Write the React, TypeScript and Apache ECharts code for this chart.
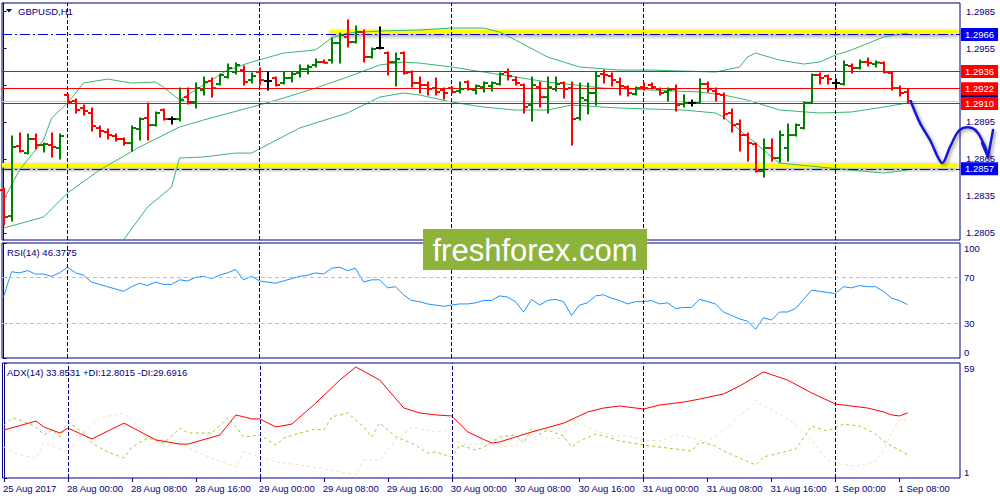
import React, { useEffect, useRef } from "react";
import * as echarts from "echarts";

// ---------- DATA ----------
const timeLabels = [
  "25 Aug 2017", "28 Aug 00:00", "28 Aug 08:00", "28 Aug 16:00", "29 Aug 00:00",
  "29 Aug 08:00", "29 Aug 16:00", "30 Aug 00:00", "30 Aug 08:00", "30 Aug 16:00",
  "31 Aug 00:00", "31 Aug 08:00", "31 Aug 16:00", "1 Sep 00:00", "1 Sep 08:00",
];
const labelBars = [0, 8, 16, 24, 32, 40, 48, 56, 64, 72, 80, 88, 96, 104, 112];
const daySeparators = [8, 32, 56, 80, 104];

const opens = [
  1.28398, 1.28187, 1.28755, 1.28698, 1.28812, 1.28763, 1.28763, 1.28739, 1.29169, 1.2912,
  1.29063, 1.29023, 1.28901, 1.28869, 1.28836, 1.28812, 1.28779, 1.28893, 1.28982, 1.28925,
  1.29047, 1.28974, 1.28974, 1.29152, 1.29112, 1.29209, 1.29282, 1.29258, 1.29315, 1.29355,
  1.29371, 1.2929, 1.29355, 1.29282, 1.29307, 1.29266, 1.29307, 1.29347, 1.29379, 1.29412,
  1.29436, 1.29452, 1.2959, 1.29639, 1.29598, 1.2968, 1.29477, 1.2955, 1.29509, 1.29436,
  1.29509, 1.29355, 1.29266, 1.2925, 1.29225, 1.29209, 1.29225, 1.29201, 1.29274, 1.29209,
  1.29233, 1.29242, 1.29258, 1.29355, 1.2929, 1.2925, 1.29087, 1.29233, 1.29152, 1.29217,
  1.29266, 1.29225, 1.28982, 1.29128, 1.29185, 1.29339, 1.29323, 1.29274, 1.29233, 1.29177,
  1.29233, 1.2925, 1.29217, 1.29193, 1.29217, 1.29096, 1.29104, 1.29104, 1.29258, 1.29201,
  1.29169, 1.29023, 1.28933, 1.28844, 1.28771, 1.28552, 1.28739, 1.28658, 1.28739, 1.28844,
  1.28901, 1.29104, 1.29331, 1.29323, 1.29266, 1.29258, 1.29404, 1.29388, 1.29436, 1.2942,
  1.29428, 1.29347, 1.29225, 1.29193,
];
const highs = [
  1.28414, 1.28836, 1.2886, 1.28852, 1.28852, 1.28779, 1.2886, 1.28852, 1.29177, 1.29136,
  1.29087, 1.29063, 1.28917, 1.28893, 1.28852, 1.2882, 1.28917, 1.28982, 1.29104, 1.29031,
  1.29055, 1.2899, 1.29225, 1.29225, 1.29266, 1.29315, 1.29307, 1.29339, 1.2942, 1.29428,
  1.29404, 1.29347, 1.29388, 1.29355, 1.29315, 1.29355, 1.29355, 1.29412, 1.29412, 1.29461,
  1.29452, 1.29631, 1.29671, 1.29777, 1.29728, 1.29696, 1.2955, 1.2972, 1.29517, 1.29509,
  1.29517, 1.29363, 1.29315, 1.29274, 1.29307, 1.29225, 1.29233, 1.29274, 1.29282, 1.2925,
  1.29274, 1.29274, 1.29347, 1.29379, 1.29315, 1.29258, 1.29315, 1.29274, 1.29315, 1.29315,
  1.29274, 1.29274, 1.29266, 1.29266, 1.29355, 1.29371, 1.29347, 1.29307, 1.29242, 1.29233,
  1.29266, 1.29266, 1.29225, 1.29225, 1.2925, 1.29169, 1.29128, 1.29298, 1.29274, 1.29225,
  1.29185, 1.29055, 1.28966, 1.2886, 1.28779, 1.28812, 1.28812, 1.28877, 1.28933, 1.28933,
  1.29112, 1.29339, 1.29347, 1.29331, 1.29298, 1.29444, 1.2942, 1.29452, 1.29469, 1.29444,
  1.29436, 1.29355, 1.29242, 1.29217,
];
const lows = [
  1.28114, 1.28147, 1.28706, 1.2869, 1.28731, 1.28706, 1.28666, 1.2865, 1.29104, 1.29023,
  1.29006, 1.28877, 1.28828, 1.28812, 1.28796, 1.28763, 1.28714, 1.28804, 1.28804, 1.28917,
  1.28966, 1.28933, 1.28958, 1.29096, 1.29063, 1.29169, 1.29152, 1.2925, 1.29307, 1.29339,
  1.2925, 1.29266, 1.2925, 1.29209, 1.29242, 1.29258, 1.29274, 1.29315, 1.29339, 1.29396,
  1.29428, 1.29428, 1.29428, 1.29558, 1.2959, 1.29436, 1.29469, 1.29542, 1.29331, 1.29242,
  1.29339, 1.29233, 1.29185, 1.29169, 1.29169, 1.29136, 1.29185, 1.29185, 1.29209, 1.29177,
  1.29193, 1.29201, 1.2925, 1.2929, 1.2925, 1.29023, 1.28958, 1.29071, 1.29023, 1.29201,
  1.29144, 1.28763, 1.28966, 1.29014, 1.29087, 1.29266, 1.29242, 1.29169, 1.2916, 1.29169,
  1.29209, 1.29217, 1.29169, 1.2912, 1.29039, 1.29071, 1.29079, 1.291, 1.29193, 1.2912,
  1.28974, 1.28869, 1.28714, 1.28633, 1.28544, 1.28504, 1.28633, 1.28625, 1.28633, 1.28836,
  1.28893, 1.291, 1.29258, 1.29258, 1.29217, 1.2925, 1.29347, 1.29379, 1.29404, 1.29396,
  1.29347, 1.29209, 1.2916, 1.29104,
];
const closes = [
  1.28179, 1.28747, 1.28714, 1.28812, 1.28763, 1.28771, 1.28747, 1.28836, 1.29112, 1.29047,
  1.29039, 1.28917, 1.28877, 1.28844, 1.28812, 1.28779, 1.28901, 1.28974, 1.28925, 1.29023,
  1.28974, 1.28974, 1.29128, 1.29112, 1.29225, 1.29274, 1.29225, 1.29331, 1.29388, 1.29412,
  1.29274, 1.29323, 1.2929, 1.29282, 1.2925, 1.29307, 1.29339, 1.29379, 1.29396, 1.29436,
  1.2943, 1.2959, 1.29655, 1.29598, 1.2968, 1.29477, 1.29542, 1.2955, 1.29436, 1.29461,
  1.29347, 1.29266, 1.2925, 1.29217, 1.29193, 1.29185, 1.29193, 1.29217, 1.29217, 1.29242,
  1.29266, 1.29266, 1.29339, 1.29323, 1.29266, 1.29071, 1.2925, 1.29152, 1.29233, 1.29258,
  1.29217, 1.28974, 1.29144, 1.29185, 1.29323, 1.29331, 1.2929, 1.29242, 1.29185, 1.29225,
  1.29225, 1.29233, 1.29185, 1.29209, 1.29087, 1.29104, 1.29104, 1.29258, 1.29217, 1.29177,
  1.29014, 1.28925, 1.28844, 1.28779, 1.28552, 1.28739, 1.28658, 1.28844, 1.28844, 1.28925,
  1.29104, 1.29331, 1.29307, 1.29298, 1.29266, 1.29412, 1.29388, 1.29436, 1.29428, 1.29432,
  1.29355, 1.29225, 1.29185, 1.2912,
];

// Bollinger bands: [bar index, price]
const bbUpper = [
  [0, 1.28317], [2, 1.2856], [5, 1.28804], [6, 1.28982], [8, 1.29104], [10, 1.29266], [13, 1.29298],
  [16, 1.29266], [19, 1.29274], [20, 1.29233], [22, 1.29128], [25, 1.2925], [28, 1.29371], [31, 1.29436],
  [35, 1.29509], [39, 1.29534], [41, 1.29631], [43, 1.29671], [47, 1.29688], [52, 1.29696], [56, 1.29712],
  [60, 1.29712], [62, 1.2968], [64, 1.29615], [68, 1.29477], [72, 1.29396], [77, 1.29371], [81, 1.29371],
  [85, 1.29363], [89, 1.29355], [92, 1.29396], [93, 1.29477], [94, 1.29509], [97, 1.29452], [100, 1.2942],
  [102, 1.29436], [104, 1.29493], [106, 1.29534], [110, 1.29639], [113, 1.29671],
];
const bbMiddle = [
  [0, 1.2809], [5, 1.28179], [8, 1.28374], [12, 1.2856], [17, 1.28747], [22, 1.28909], [25, 1.28966],
  [31, 1.29071], [35, 1.29144], [39, 1.29225], [43, 1.29315], [47, 1.29412], [50, 1.29436], [52, 1.29428],
  [56, 1.29396], [60, 1.29355], [64, 1.29315], [68, 1.29274], [75, 1.29225], [81, 1.29209], [87, 1.29193],
  [90, 1.29169], [93, 1.29128], [97, 1.29047], [102, 1.29023], [106, 1.29031], [110, 1.29071], [113, 1.29104],
];
const bbLower = [
  [15, 1.27993], [18, 1.2826], [21, 1.28422], [22, 1.28658], [25, 1.28666], [29, 1.28698], [31, 1.28698],
  [37, 1.28901], [39, 1.28942], [43, 1.29023], [47, 1.29152], [50, 1.29185], [52, 1.29169], [56, 1.29112],
  [60, 1.29071], [64, 1.29047], [68, 1.29047], [71, 1.29087], [77, 1.29063], [85, 1.29047], [89, 1.29023],
  [90, 1.2899], [92, 1.28885], [94, 1.28779], [96, 1.28666], [97, 1.28617], [102, 1.28585], [106, 1.2856],
  [110, 1.28536], [113, 1.2856],
];

const priceTicks = [1.2805, 1.2835, 1.2865, 1.2895, 1.2925, 1.2955, 1.2985];
const levelsRed = [1.2936, 1.2922, 1.291];
const levelsBlue = [1.2966, 1.2857];
const bidPrice = 1.2912;

// RSI(14), one value per bar
const rsi = [
  53, 75, 74, 76, 73, 73, 71, 74, 79, 74,
  72, 66, 64, 62, 60, 58, 62, 65, 63, 66,
  64, 64, 68, 67, 70, 71, 69, 72, 74, 77,
  68, 71, 67, 66, 65, 67, 69, 71, 72, 74,
  73, 78, 79, 76, 78, 66, 68, 68, 61, 62,
  55, 50, 49, 47, 46, 45, 46, 47, 47, 48,
  50, 50, 54, 53, 49, 40, 51, 46, 50, 51,
  49, 37, 46, 48, 54, 55, 52, 50, 47, 49,
  49, 50, 47, 48, 43, 44, 44, 51, 49, 47,
  40, 37, 34, 32, 25, 35, 33, 40, 40, 43,
  51, 59, 58, 57, 56, 62, 61, 63, 62, 62,
  58, 52, 50, 46.3775,
];
const rsiLevels = [70, 30];

// ADX(14), +DI, -DI: [bar index, value]
const adx = [
  [0, 25.2], [4, 29.7], [5, 26.7], [7, 23.7], [8, 26.2], [11, 20.7], [15, 28.7], [19, 20.2], [22, 18.1],
  [23, 18.1], [27, 22.7], [29, 32.8], [31, 30.8], [32, 30.8], [34, 26.7], [36, 28.2], [39, 38.8],
  [42, 50.4], [44, 57.0], [47, 50.4], [50, 36.3], [52, 33.8], [54, 32.8], [56, 32.3], [58, 24.2],
  [61, 18.6], [62, 19.2], [66, 24.2], [70, 28.7], [73, 34.3], [75, 36.3], [77, 37.3], [80, 35.8],
  [82, 37.8], [85, 39.3], [87, 40.8], [90, 43.4], [92, 47.4], [95, 54.5], [98, 50.4], [101, 43.9],
  [104, 38.3], [106, 37.3], [108, 36.3], [110, 34.3], [111, 32.8], [112, 32.3], [113, 33.85],
];
const plusDI = [
  [0, 27.7], [1, 31.3], [2, 30.2], [4, 26.7], [5, 22.7], [6, 25.2], [7, 21.7], [8, 29.2], [10, 23.7],
  [11, 18.6], [13, 14.1], [15, 11.1], [16, 16.6], [18, 21.2], [20, 18.6], [22, 26.2], [23, 23.7],
  [26, 23.7], [28, 31.3], [29, 26.7], [30, 21.7], [32, 22.7], [34, 17.6], [35, 21.2], [37, 23.7],
  [39, 25.7], [40, 25.2], [41, 31.8], [43, 33.8], [45, 26.7], [46, 21.7], [47, 28.7], [49, 21.7],
  [51, 18.6], [53, 13.6], [54, 14.1], [56, 11.6], [57, 17.6], [59, 15.1], [60, 16.6], [62, 21.7],
  [64, 22.7], [65, 18.6], [66, 26.2], [67, 23.2], [68, 25.2], [70, 22.2], [71, 16.6], [72, 19.7],
  [74, 23.2], [75, 22.2], [77, 19.7], [80, 17.6], [83, 16.1], [86, 14.6], [87, 19.2], [89, 17.1],
  [90, 14.6], [92, 11.1], [94, 7.6], [95, 11.6], [97, 13.6], [99, 15.6], [100, 21.2], [101, 27.2],
  [103, 24.7], [105, 28.2], [107, 27.2], [109, 23.2], [110, 19.7], [111, 17.1], [112, 15.1], [113, 12.8015],
];
const minusDI = [
  [0, 16.6], [2, 12.6], [4, 11.1], [5, 18.6], [8, 14.1], [10, 24.2], [12, 31.3], [15, 33.8], [17, 26.2],
  [20, 16.6], [22, 18.6], [25, 12.6], [29, 6.5], [30, 14.1], [32, 11.6], [34, 9.1], [37, 7.6], [41, 5.0],
  [44, 2.5], [45, 10.1], [47, 10.1], [49, 20.2], [51, 26.7], [54, 24.2], [55, 25.2], [56, 20.2],
  [58, 17.6], [60, 18.6], [62, 16.6], [64, 17.1], [65, 24.7], [66, 21.2], [67, 22.7], [68, 20.7],
  [70, 21.2], [71, 31.3], [72, 28.2], [74, 24.7], [76, 22.2], [78, 22.2], [80, 20.2], [82, 19.7],
  [84, 22.7], [86, 21.2], [88, 19.2], [90, 25.2], [91, 28.7], [92, 32.8], [93, 35.3], [94, 40.3],
  [95, 37.3], [97, 33.3], [99, 28.2], [100, 24.2], [101, 20.2], [103, 10.1], [105, 7.6], [107, 7.1],
  [109, 9.6], [110, 15.1], [111, 23.7], [112, 30.8], [113, 29.6916],
];

// hand-drawn forecast arrow (bar index, price)
const arrowPath = [
  [113.4, 1.29118], [114.56, 1.28941], [115.81, 1.28804], [117.31, 1.28617], [118.31, 1.28747],
  [119.19, 1.2886], [119.94, 1.28901], [121.06, 1.28901], [121.81, 1.2886], [122.69, 1.28747],
  [123.06, 1.28666],
];
const arrowHead = [[122.31, 1.28779], [123.06, 1.28666], [123.69, 1.28885]];

// ---------- STYLE ----------
const NAVY = "#000080";
const FONT = "Liberation Sans";
const FS = 9.5;
const X_MIN = -0.19;
const X_MAX = 119.56;

const barRows = opens.map((o, i) => [i, o, highs[i], lows[i], closes[i]]);
const rsiRows = rsi.map((v, i) => [i, v]);

const sepStyle = { color: NAVY, type: [4, 2], width: 1 };
const sepMarkLine = {
  silent: true,
  symbol: ["none", "none"],
  label: { show: false },
  lineStyle: sepStyle,
  data: daySeparators.map((v) => ({ xAxis: v })),
};

const levelLabel = (bg: string) => ({
  show: true,
  position: "end" as const,
  distance: 1,
  formatter: (p: any) => Number(p.value).toFixed(4),
  backgroundColor: bg,
  color: "#ffffff",
  padding: [2, 4, 1, 4],
  fontFamily: FONT,
  fontSize: FS,
});

const txt = (id: string, x: number, y: number, text: string) => ({
  id,
  type: "text",
  x,
  y,
  z: 50,
  silent: true,
  style: {
    text,
    fill: NAVY,
    font: `${FS}px "${FONT}"`,
    verticalAlign: "middle",
    align: "left",
  },
});

function buildOption() {
  const grids = [
    { left: 2, width: 958, top: 3, height: 237 },
    { left: 2, width: 958, top: 243, height: 115 },
    { left: 2, width: 958, top: 363, height: 115 },
  ].map((g) => ({ ...g, show: true, borderColor: NAVY, borderWidth: 1, backgroundColor: "#ffffff" }));

  const xAxes = [0, 1, 2].map((gi) => ({
    type: "value",
    gridIndex: gi,
    min: X_MIN,
    max: X_MAX,
    show: gi === 2,
    splitLine: { show: false },
    axisLine: { show: false },
    axisTick: {
      show: gi === 2,
      length: 4,
      lineStyle: { color: NAVY },
      customValues: labelBars,
    },
    axisLabel: {
      show: gi === 2,
      customValues: labelBars,
      formatter: (v: number) => timeLabels[labelBars.indexOf(Math.round(v))] ?? "",
      color: NAVY,
      fontFamily: FONT,
      fontSize: FS,
      align: "left",
      margin: 5,
      padding: [0, 0, 0, -1],
    },
  }));

  const yCommon = {
    type: "value",
    position: "right",
    splitLine: { show: false },
    axisLine: { show: true, lineStyle: { color: NAVY } },
  };
  const yAxes = [
    {
      ...yCommon,
      gridIndex: 0,
      min: 1.27993,
      max: 1.29915,
      axisTick: { show: true, length: 3, lineStyle: { color: NAVY }, customValues: priceTicks },
      axisLabel: {
        customValues: priceTicks,
        formatter: (v: number) => v.toFixed(4),
        color: NAVY,
        fontFamily: FONT,
        fontSize: FS,
        margin: 6,
      },
    },
    {
      ...yCommon,
      gridIndex: 1,
      min: 0,
      max: 100,
      axisTick: { show: true, length: 3, lineStyle: { color: NAVY }, customValues: [0, 30, 70, 100] },
      axisLabel: {
        customValues: [4.5, 30, 70, 95],
        formatter: (v: number) => (v > 90 ? "100" : v < 10 ? "0" : String(v)),
        color: NAVY,
        fontFamily: FONT,
        fontSize: FS,
        margin: 4,
      },
    },
    {
      ...yCommon,
      gridIndex: 2,
      min: 1,
      max: 59,
      axisTick: { show: true, length: 3, lineStyle: { color: NAVY }, customValues: [1, 59] },
      axisLabel: {
        customValues: [3.7, 56],
        formatter: (v: number) => (v > 50 ? "59" : "1"),
        color: NAVY,
        fontFamily: FONT,
        fontSize: FS,
        margin: 4,
      },
    },
  ];

  const bbLine = (name: string, data: number[][], z: number, extra: any = {}) => ({
    name,
    type: "line",
    xAxisIndex: 0,
    yAxisIndex: 0,
    data,
    showSymbol: false,
    symbol: "none",
    z,
    lineStyle: { color: "#3CB371", width: 1 },
    silent: true,
    ...extra,
  });

  const series: any[] = [
    bbLine("BB upper", bbUpper, 2, {
      markArea: {
        silent: true,
        itemStyle: {
          color: "#FFFF00",
          shadowBlur: 5,
          shadowColor: "rgba(0,0,0,0.45)",
          shadowOffsetY: 2,
        },
        data: [
          [{ xAxis: 40.8, yAxis: 1.29663 }, { xAxis: 119.3, yAxis: 1.29697 }],
          [{ xAxis: X_MIN, yAxis: 1.28581 }, { xAxis: 119.3, yAxis: 1.28617 }],
        ],
      },
      markLine: {
        silent: true,
        precision: 5,
        symbol: ["none", "none"],
        label: { show: false },
        data: [{ yAxis: bidPrice, lineStyle: { color: "#C8C8C8", type: "solid", width: 1 } }],
      },
    }),
    bbLine("BB middle", bbMiddle, 2, { markLine: sepMarkLine }),
    bbLine("BB lower", bbLower, 3, {
      markLine: {
        silent: true,
        precision: 5,
        symbol: ["none", "none"],
        data: [
          ...levelsRed.map((v) => ({
            yAxis: v,
            lineStyle: { color: "#FF0000", type: "solid", width: 1 },
            label: levelLabel("#FF0000"),
          })),
          ...levelsBlue.map((v) => ({
            yAxis: v,
            lineStyle: { color: "#0000E0", type: [10, 3, 2, 3], width: 1 },
            label: levelLabel("#0000F0"),
          })),
        ],
      },
    }),
    {
      name: "GBPUSD",
      type: "custom",
      xAxisIndex: 0,
      yAxisIndex: 0,
      z: 5,
      silent: true,
      data: barRows,
      encode: { x: 0, y: [1, 2, 3, 4] },
      renderItem: (_params: any, api: any) => {
        const i = api.value(0);
        const o = api.value(1);
        const h = api.value(2);
        const l = api.value(3);
        const c = api.value(4);
        const pH = api.coord([i, h]);
        const pL = api.coord([i, l]);
        const pO = api.coord([i, o]);
        const pC = api.coord([i, c]);
        const color = c > o ? "#008000" : c < o ? "#FF0000" : "#000000";
        const x = Math.round(pH[0]);
        const st = { stroke: color, lineWidth: 2 };
        return {
          type: "group",
          children: [
            { type: "line", shape: { x1: x, y1: pH[1] - 0.5, x2: x, y2: pL[1] + 0.5 }, style: st },
            { type: "line", shape: { x1: x - 4, y1: pO[1], x2: x, y2: pO[1] }, style: st },
            { type: "line", shape: { x1: x, y1: pC[1], x2: x + 4, y2: pC[1] }, style: st },
          ],
        };
      },
    },
    {
      name: "RSI",
      type: "line",
      xAxisIndex: 1,
      yAxisIndex: 1,
      data: rsiRows,
      showSymbol: false,
      symbol: "none",
      silent: true,
      lineStyle: { color: "#1E90FF", width: 1 },
      markLine: {
        silent: true,
        symbol: ["none", "none"],
        label: { show: false },
        data: [
          ...rsiLevels.map((v) => ({ yAxis: v, lineStyle: { color: "#C0C0C0", type: [4, 3], width: 1 } })),
          ...daySeparators.map((v) => ({ xAxis: v, lineStyle: sepStyle })),
        ],
      },
    },
    {
      name: "ADX",
      type: "line",
      xAxisIndex: 2,
      yAxisIndex: 2,
      data: adx,
      showSymbol: false,
      symbol: "none",
      silent: true,
      z: 4,
      lineStyle: { color: "#FF0000", width: 1 },
      markLine: sepMarkLine,
    },
    {
      name: "+DI",
      type: "line",
      xAxisIndex: 2,
      yAxisIndex: 2,
      data: plusDI,
      showSymbol: false,
      symbol: "none",
      silent: true,
      lineStyle: { color: "#9ACD32", width: 1, type: [3, 3] },
    },
    {
      name: "-DI",
      type: "line",
      xAxisIndex: 2,
      yAxisIndex: 2,
      data: minusDI,
      showSymbol: false,
      symbol: "none",
      silent: true,
      lineStyle: { color: "#F5DEB3", width: 1, type: [3, 3] },
    },
  ];

  const graphic = [
    {
      id: "tri",
      type: "polygon",
      z: 50,
      silent: true,
      shape: { points: [[6, 9], [12, 9], [9, 12.5]] },
      style: { fill: NAVY },
    },
    txt("t1", 18, 11, "GBPUSD,H1"),
    txt("t2", 7, 252, "RSI(14) 46.3775"),
    txt("t3", 7, 372, "ADX(14) 33.8531 +DI:12.8015 -DI:29.6916"),
    {
      id: "wmRect",
      type: "rect",
      z: 60,
      silent: true,
      shape: { x: 423, y: 229, width: 224, height: 41 },
      style: { fill: "#8DB33A" },
    },
    {
      id: "wmText",
      type: "text",
      z: 61,
      silent: true,
      x: 535,
      y: 250,
      style: {
        text: "freshforex.com",
        fill: "#ffffff",
        font: `31px "Liberation Sans"`,
        align: "center",
        verticalAlign: "middle",
      },
    },
  ];

  return {
    animation: false,
    backgroundColor: "#ffffff",
    grid: grids,
    xAxis: xAxes,
    yAxis: yAxes,
    series,
    graphic,
  };
}

export default function App() {
  const ref = useRef<HTMLDivElement>(null);
  useEffect(() => {
    if (!ref.current) return;
    const chart = echarts.init(ref.current, null, { renderer: "svg" });
    chart.setOption(buildOption() as any);
    const toPx = (p: number[]) => chart.convertToPixel({ xAxisIndex: 0, yAxisIndex: 0 }, p) as number[];
    const bidPx = toPx([0, bidPrice]);
    const arrowStyle = {
      stroke: "#1818D8",
      lineWidth: 2.5,
      fill: "none",
      lineCap: "round",
      lineJoin: "round",
      shadowColor: "rgba(0,0,0,0.35)",
      shadowBlur: 3,
      shadowOffsetX: 2,
      shadowOffsetY: 2,
    };
    chart.setOption({
      graphic: [
        {
          id: "bidBox",
          type: "rect",
          z: 1,
          silent: true,
          shape: { x: 961, y: bidPx[1] - 6, width: 37, height: 12 },
          style: { fill: NAVY },
        },
        {
          id: "arrow",
          type: "polyline",
          z: 40,
          silent: true,
          shape: { points: arrowPath.map(toPx), smooth: 0.3 },
          style: arrowStyle,
        },
        {
          id: "arrowHead",
          type: "polyline",
          z: 40,
          silent: true,
          shape: { points: arrowHead.map(toPx) },
          style: arrowStyle,
        },
      ],
    } as any);
    return () => chart.dispose();
  }, []);
  return (
    <div
      ref={ref}
      style={{ position: "fixed", left: 0, top: 0, width: 1000, height: 500, background: "#ffffff" }}
    />
  );
}
